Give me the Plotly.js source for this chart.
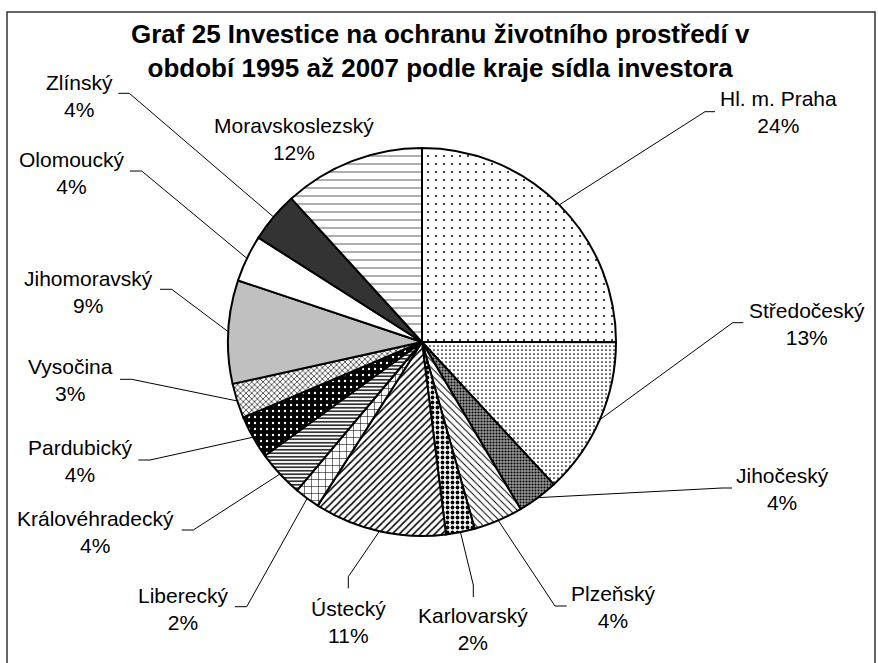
<!DOCTYPE html>
<html>
<head>
<meta charset="utf-8">
<script src="https://cdn.plot.ly/plotly-3.0.1.min.js"></script>
<style>html,body{margin:0;padding:0;background:#fff;}</style>
</head>
<body>
<div id="chart" style="width:878px;height:663px;"></div>
<script>
// ---- data ----
const regions = ['Hl. m. Praha', 'Středočeský', 'Jihočeský', 'Plzeňský', 'Karlovarský', 'Ústecký',
  'Liberecký', 'Královéhradecký', 'Pardubický', 'Vysočina', 'Jihomoravský', 'Olomoucký', 'Zlínský', 'Moravskoslezský'];
const shares = [25.0, 13.1, 3.4, 4.1, 2.4, 11.0, 2.1, 3.9, 3.6, 2.9, 8.6, 3.9, 4.2, 11.75];
// percentages as printed on the chart
const printedPct = ['24%', '13%', '4%', '4%', '2%', '11%', '2%', '4%', '4%', '3%', '9%', '4%', '4%', '12%'];
const chartTitle = 'Graf 25 Investice na ochranu životního prostředí v<br>období 1995 až 2007 podle kraje sídla investora';

// ---- styles ----
const sliceColors = ['#ffffff', '#ffffff', '#9a9a9a', '#ffffff', '#ffffff', '#ffffff', '#ffffff',
  '#ffffff', '#000000', '#ffffff', '#c0c0c0', '#ffffff', '#333333', '#ffffff'];
const patShape = ['.', '.', '.', '\\', '.', '/', '+', '-', '.', 'x', '', '', '', '-'];
const patFg = ['#000', '#000', '#000', '#000', '#000', '#000', '#000', '#000', '#fff', '#000', '#000', '#000', '#000', '#555'];
const patBg = sliceColors;
const patSize = [8, 4, 3, 5, 5, 5, 7, 3.5, 6, 4, 8, 8, 8, 8];
const patSolid = [0.05, 0.15, 0.4, 0.2, 0.45, 0.3, 0.15, 0.4, 0.12, 0.3, 0.1, 0.1, 0.1, 0.12];

// ---- layout geometry (pixels) ----
const W = 878, H = 663;
const CX = 422, CY = 342, R = 194;
// label centres and leader-line bend/end points
const labelLayout = [
  {x: 778, y: 111.5, bx: 705, by: 111.7, ex: 715, ey: 111.7},
  {x: 806.7, y: 323.5, bx: 732.7, by: 322.7, ex: 743.3, ey: 322.7},
  {x: 782.7, y: 489, bx: 722, by: 488, ex: 732, ey: 488},
  {x: 613.3, y: 607, bx: 555, by: 606, ex: 566.7, ey: 606},
  {x: 473.3, y: 629, bx: 473.3, by: 585, ex: 473.3, ey: 597},
  {x: 348.3, y: 621.5, bx: 348.3, by: 576.7, ex: 348.3, ey: 588.3},
  {x: 183.3, y: 609, bx: 246.7, by: 606.7, ex: 235, ey: 606.7},
  {x: 95.7, y: 531.7, bx: 193.3, by: 530, ex: 181.7, ey: 530},
  {x: 80, y: 461, bx: 150, by: 460, ex: 138.3, ey: 460},
  {x: 70.7, y: 380, bx: 131.7, by: 379.3, ex: 120, ey: 379.3},
  {x: 88.3, y: 291.7, bx: 171.7, by: 289.3, ex: 160, ey: 289.3},
  {x: 71.7, y: 172.7, bx: 141.7, by: 171, ex: 130, ey: 171},
  {x: 79, y: 95.7, bx: 129.3, by: 93.3, ex: 118.3, ey: 93.3},
  {x: 294, y: 139, line: false}
];

const px = v => v / W;
const py = v => 1 - v / H;

const trace = {
  type: 'pie',
  labels: regions,
  values: shares,
  sort: false,
  direction: 'clockwise',
  rotation: 0,
  textinfo: 'none',
  hoverinfo: 'label+percent',
  showlegend: false,
  domain: {x: [px(CX - R), px(CX + R)], y: [py(CY + R), py(CY - R)]},
  marker: {
    colors: sliceColors,
    line: {color: '#000', width: 2},
    pattern: {
      shape: patShape, fgcolor: patFg, bgcolor: patBg, size: patSize, solidity: patSolid, fillmode: 'replace'
    }
  }
};

// leader lines start at the edge of each slice, at its middle angle
const total = shares.reduce((a, b) => a + b, 0);
let cum = 0;
const shapes = [];
const annotations = [];
shares.forEach((v, i) => {
  const mid = (cum + v / 2) / total * 2 * Math.PI;
  cum += v;
  const sx = CX + R * Math.sin(mid), sy = CY - R * Math.cos(mid);
  const L = labelLayout[i];
  if (L.line !== false) {
    shapes.push({
      type: 'path', xref: 'paper', yref: 'paper',
      path: `M ${px(sx)} ${py(sy)} L ${px(L.bx)} ${py(L.by)} L ${px(L.ex)} ${py(L.ey)}`,
      line: {color: '#000', width: 1}
    });
  }
  annotations.push({
    xref: 'paper', yref: 'paper', x: px(L.x), y: py(L.y), xanchor: 'center', yanchor: 'middle',
    showarrow: false, align: 'center',
    text: regions[i] + '<br>' + printedPct[i],
    font: {family: 'Liberation Sans, Arial, sans-serif', size: 21, color: '#000'}
  });
});

// chart title
annotations.push({
  xref: 'paper', yref: 'paper', x: px(440), y: py(51), xanchor: 'center', yanchor: 'middle',
  showarrow: false, align: 'center', text: chartTitle,
  font: {family: 'Liberation Sans, Arial, sans-serif', size: 26, color: '#000', weight: 'bold'}
});

// outer chart frame
shapes.push({
  type: 'rect', xref: 'paper', yref: 'paper',
  x0: px(7), x1: px(875), y0: py(680), y1: py(12),
  line: {color: '#333', width: 1.5}
});

const layout = {
  width: W, height: H, autosize: false,
  margin: {l: 0, r: 0, t: 0, b: 0},
  paper_bgcolor: '#fff', plot_bgcolor: '#fff',
  shapes: shapes,
  annotations: annotations
};

Plotly.newPlot('chart', [trace], layout, {displayModeBar: false, staticPlot: true});
</script>
</body>
</html>
